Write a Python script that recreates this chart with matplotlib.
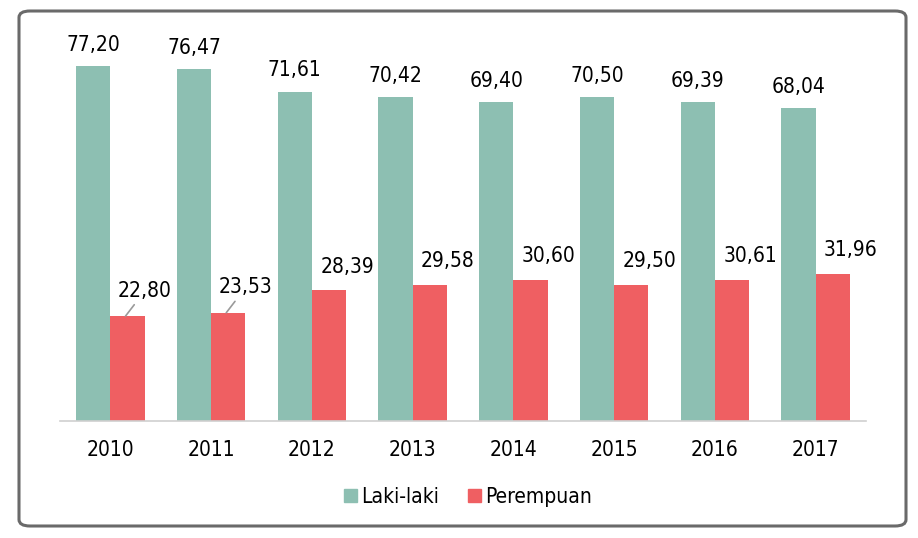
import matplotlib
matplotlib.use("Agg")
import matplotlib.pyplot as plt
from matplotlib.patches import FancyBboxPatch, Patch
from matplotlib import font_manager

years = ["2010", "2011", "2012", "2013", "2014", "2015", "2016", "2017"]
laki = [77.20, 76.47, 71.61, 70.42, 69.40, 70.50, 69.39, 68.04]
perempuan = [22.80, 23.53, 28.39, 29.58, 30.60, 29.50, 30.61, 31.96]

c_laki = "#8DBFB2"
c_per = "#EF5F62"

names = {f.name for f in font_manager.fontManager.ttflist}
fam = "Liberation Sans Narrow" if "Liberation Sans Narrow" in names else "DejaVu Sans"
plt.rcParams["font.family"] = [fam, "DejaVu Sans"]
plt.rcParams["font.stretch"] = "condensed"

def fmt(v):
    return f"{v:.2f}".replace(".", ",")

fig = plt.figure(figsize=(9.18, 5.38), dpi=100)
frame = FancyBboxPatch((19/918, 1-526/538), (906-19)/918, (526-11)/538,
                       boxstyle="round,pad=0,rounding_size=0.012",
                       transform=fig.transFigure, facecolor="none",
                       edgecolor="#6a6a6a", linewidth=2.2, zorder=-1)
fig.patches.append(frame)

ax = fig.add_axes([60/918, (538-421)/538, 806/918, (421-30)/538])
ax.set_facecolor("none")
x = list(range(len(years)))
w = 0.34
ax.bar([i - w/2 for i in x], laki, width=w, color=c_laki, zorder=2)
ax.bar([i + w/2 for i in x], perempuan, width=w, color=c_per, zorder=2)
ax.set_xlim(-0.5, len(years) - 0.5)
ax.set_ylim(0, 85)
for s in ["top", "right", "left"]:
    ax.spines[s].set_visible(False)
ax.spines["bottom"].set_color("#d0d0d0")
ax.spines["bottom"].set_linewidth(1.2)
ax.set_yticks([])
ax.set_xticks(x)
ax.set_xticklabels(years, fontsize=15)
ax.tick_params(axis="x", length=0, pad=14)

for i, v in enumerate(laki):
    ax.annotate(fmt(v), (i - w/2, v), xytext=(0, 8), textcoords="offset points",
                ha="center", va="bottom", fontsize=15)
for i, v in enumerate(perempuan):
    if i < 2:
        ax.annotate(fmt(v), (i + 0.15, v), xytext=(14, 11), textcoords="offset points",
                    ha="center", va="bottom", fontsize=15,
                    arrowprops=dict(arrowstyle="-", color="#9a9a9a", lw=1.2,
                                    shrinkA=1, shrinkB=0))
    else:
        ax.annotate(fmt(v), (i + w/2, v), xytext=(13, 10), textcoords="offset points",
                    ha="center", va="bottom", fontsize=15)

handles = [Patch(color=c_laki, label="Laki-laki"), Patch(color=c_per, label="Perempuan")]
fig.legend(handles=handles, loc="center", bbox_to_anchor=(468/918, 1-497/538),
           ncol=2, frameon=False, fontsize=15, handlelength=0.6, handleheight=0.6,
           handletextpad=0.2, columnspacing=1.4)

fig.savefig("out.png", dpi=100)
